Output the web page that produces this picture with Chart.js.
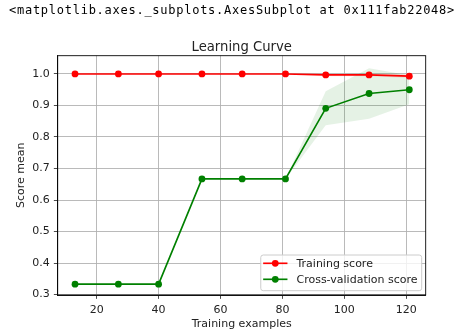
<!DOCTYPE html>
<html>
<head>
<meta charset="utf-8">
<script src="https://cdn.jsdelivr.net/npm/chart.js@4/dist/chart.umd.min.js"></script>
<style>
html,body{margin:0;padding:0;background:#fff;}
#wrap{position:relative;width:463px;height:335px;}
canvas{display:block;}
</style>
</head>
<body>
<div id="wrap"><canvas id="c" width="463" height="335"></canvas></div>
<script>
const headerText = "<matplotlib.axes._subplots.AxesSubplot at 0x111fab22048>";
const chartTitle = "Learning Curve";
const xLabel = "Training examples";
const yLabel = "Score mean";
const seriesNames = ["Training score", "Cross-validation score"];
const trainSizes = [13, 27, 40, 54, 67, 81, 94, 108, 121];
const trainMean = [1.0, 1.0, 1.0, 1.0, 1.0, 1.0, 0.997, 0.997, 0.993];
const trainStd  = [0, 0, 0, 0, 0, 0, 0.004, 0.004, 0.006];
const cvMean = [0.333, 0.333, 0.333, 0.667, 0.667, 0.667, 0.891, 0.938, 0.950];
const cvStd  = [0, 0, 0, 0, 0, 0, 0.054, 0.080, 0.046];
const xTicks = [20, 40, 60, 80, 100, 120];
const yTicks = [0.3, 0.4, 0.5, 0.6, 0.7, 0.8, 0.9, 1.0];

const FS = 11;
const FONT = '"DejaVu Sans", sans-serif';
const TXT = '#222';

const pts = ys => trainSizes.map((x, i) => ({x: x, y: ys[i]}));

const overlay = {
  id: 'overlay',
  afterDraw(chart) {
    const ctx = chart.ctx, a = chart.chartArea;
    ctx.save();
    // axes frame
    ctx.strokeStyle = '#000';
    ctx.lineWidth = 0.88;
    ctx.strokeRect(a.left, a.top, a.right - a.left, a.bottom - a.top);
    // header output text
    ctx.fillStyle = '#000';
    ctx.font = '12px "DejaVu Sans Mono", monospace';
    if ('letterSpacing' in ctx) ctx.letterSpacing = '0.74px';
    ctx.textAlign = 'left';
    ctx.textBaseline = 'alphabetic';
    ctx.fillText(headerText, 9, 14);
    if ('letterSpacing' in ctx) ctx.letterSpacing = '0px';
    // title
    ctx.fillStyle = TXT;
    ctx.font = '13.2px ' + FONT;
    ctx.textAlign = 'center';
    ctx.fillText(chartTitle, (a.left + a.right) / 2, a.top - 5.2);
    // legend
    ctx.font = FS + 'px ' + FONT;
    const ds = chart.data.datasets.slice(0, 2);
    const tw = Math.max(...ds.map(d => ctx.measureText(d.label).width));
    const bw = 35.7 + tw + 4.2, bh = 35.7;
    const bx = a.right - 4 - bw, by = a.bottom - 4.3 - bh;
    ctx.beginPath();
    if (ctx.roundRect) ctx.roundRect(bx, by, bw, bh, 2.5); else ctx.rect(bx, by, bw, bh);
    ctx.fillStyle = 'rgba(255,255,255,0.8)';
    ctx.fill();
    ctx.strokeStyle = '#cccccc';
    ctx.lineWidth = 1;
    ctx.stroke();
    ds.forEach((d, i) => {
      const cy = by + 8.3 + 16 * i;
      ctx.strokeStyle = d.borderColor;
      ctx.lineWidth = 1.65;
      ctx.beginPath();
      ctx.moveTo(bx + 2.4, cy);
      ctx.lineTo(bx + 26.7, cy);
      ctx.stroke();
      ctx.fillStyle = d.borderColor;
      ctx.beginPath();
      ctx.arc(bx + 14.5, cy, 3.4, 0, Math.PI * 2);
      ctx.fill();
      ctx.fillStyle = TXT;
      ctx.textAlign = 'left';
      ctx.textBaseline = 'middle';
      ctx.fillText(d.label, bx + 35.7, cy + 0.5);
    });
    ctx.restore();
  }
};

const bandStyle = color => ({
  borderColor: 'transparent', borderWidth: 0, pointRadius: 0,
  pointHoverRadius: 0, backgroundColor: color, tension: 0, order: 2
});

new Chart(document.getElementById('c'), {
  type: 'line',
  data: {
    datasets: [
      {label: seriesNames[0], data: pts(trainMean), borderColor: '#ff0000',
       backgroundColor: '#ff0000', pointBackgroundColor: '#ff0000', pointBorderWidth: 0,
       borderWidth: 1.65, pointRadius: 3.4, fill: false, tension: 0, order: 1},
      {label: seriesNames[1], data: pts(cvMean), borderColor: '#008000',
       backgroundColor: '#008000', pointBackgroundColor: '#008000', pointBorderWidth: 0,
       borderWidth: 1.65, pointRadius: 3.4, fill: false, tension: 0, order: 0},
      Object.assign({label: 'train+std', data: pts(trainMean.map((m, i) => m + trainStd[i])), fill: '+1'}, bandStyle('rgba(255,0,0,0.1)')),
      Object.assign({label: 'train-std', data: pts(trainMean.map((m, i) => m - trainStd[i])), fill: false}, bandStyle('rgba(255,0,0,0.1)')),
      Object.assign({label: 'cv+std', data: pts(cvMean.map((m, i) => m + cvStd[i])), fill: '+1'}, bandStyle('rgba(0,128,0,0.1)')),
      Object.assign({label: 'cv-std', data: pts(cvMean.map((m, i) => m - cvStd[i])), fill: false}, bandStyle('rgba(0,128,0,0.1)'))
    ]
  },
  options: {
    responsive: false,
    animation: false,
    devicePixelRatio: 1,
    events: [],
    layout: {padding: {top: 55.7, right: 37.3, left: 0, bottom: 0}},
    plugins: {legend: {display: false}, title: {display: false}, tooltip: {enabled: false}},
    scales: {
      x: {
        type: 'linear', min: 7.4, max: 126.3,
        afterBuildTicks: s => { s.ticks = xTicks.map(v => ({value: v})); },
        afterFit: s => { s.height = 40; },
        grid: {color: '#b0b0b0', lineWidth: 0.88, tickLength: 3.85, tickColor: '#333', drawTicks: true},
        border: {display: true, color: '#000', width: 0.88},
        ticks: {padding: 5, color: TXT, font: {family: FONT, size: FS}, autoSkip: false, maxRotation: 0,
                callback: v => String(v)},
        title: {display: true, text: xLabel, color: TXT, font: {family: FONT, size: FS}, padding: {top: 0, bottom: 4.4}}
      },
      y: {
        type: 'linear', min: 0.2985, max: 1.058,
        afterBuildTicks: s => { s.ticks = yTicks.map(v => ({value: v})); },
        afterFit: s => { s.width = 57.7; },
        grid: {color: '#b0b0b0', lineWidth: 0.88, tickLength: 3.85, tickColor: '#333', drawTicks: true},
        border: {display: true, color: '#000', width: 0.88},
        ticks: {padding: 4.2, color: TXT, font: {family: FONT, size: FS}, autoSkip: false,
                callback: v => Number(v).toFixed(1)},
        title: {display: true, text: yLabel, color: TXT, font: {family: FONT, size: FS}, padding: {top: 14.4, bottom: 0}}
      }
    }
  },
  plugins: [overlay]
});
</script>
</body>
</html>
